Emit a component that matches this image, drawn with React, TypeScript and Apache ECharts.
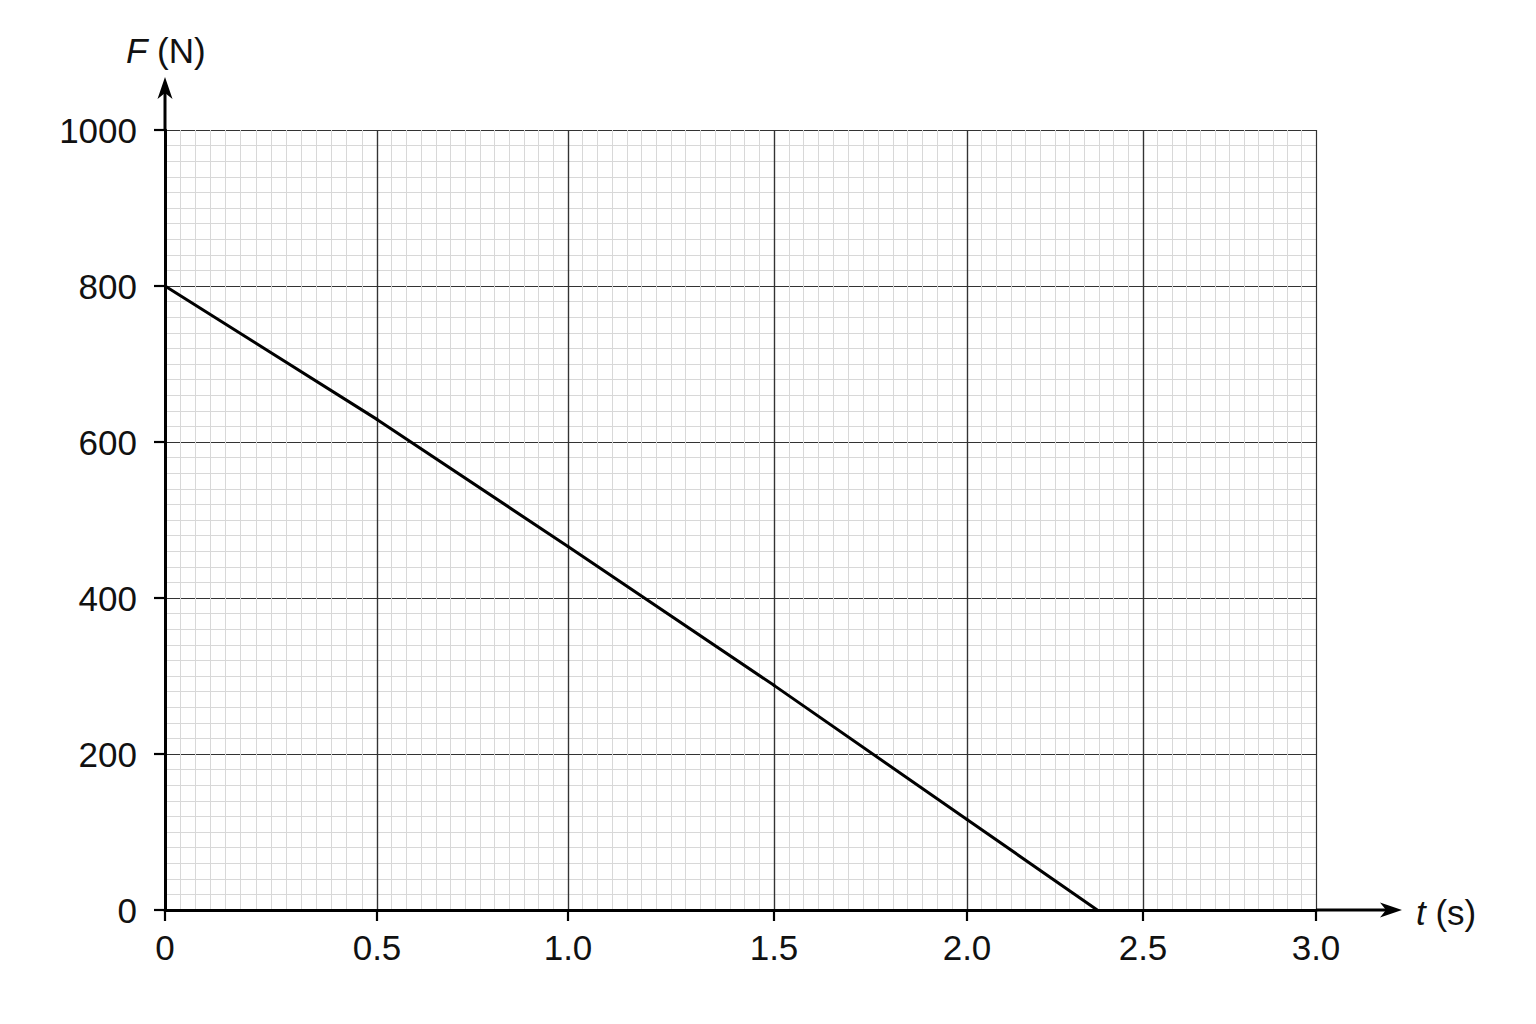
import React, { useEffect, useRef } from "react";
import * as echarts from "echarts";

// ---- data ----
const xTicks = [0, 0.5, 1.0, 1.5, 2.0, 2.5, 3.0];
const xTickLabels = ["0", "0.5", "1.0", "1.5", "2.0", "2.5", "3.0"];
const yTicks = [0, 200, 400, 600, 800, 1000];
const yTickLabels = ["0", "200", "400", "600", "800", "1000"];
const timeValues = [0, 0.5, 1.0, 1.5, 2.0, 2.37];
const forceValues = [800, 629, 466, 288, 116, 0];

// ---- layout (pixel edges of each 0.5 s band, as drawn in the reference) ----
const bandEdges = [165, 377, 568, 774, 967, 1143, 1316];
const minorCounts = [14, 13, 14, 13, 12, 12];
const PLOT_TOP = 130;
const PLOT_BOTTOM = 910;
const FONT = "'Liberation Sans', Arial, Helvetica, sans-serif";
const FS = 35;

function xLabelFor(v: number): string {
  const i = xTicks.findIndex((t) => Math.abs(t - v) < 1e-9);
  return i >= 0 ? xTickLabels[i] : String(v);
}
function yLabelFor(v: number): string {
  const i = yTicks.findIndex((t) => Math.abs(t - v) < 1e-9);
  return i >= 0 ? yTickLabels[i] : String(v);
}

export default function App() {
  const ref = useRef<HTMLDivElement>(null);

  useEffect(() => {
    if (!ref.current) return;
    const chart = echarts.init(ref.current, undefined, { renderer: "svg" });
    const nBands = xTicks.length - 1;
    const yMin = yTicks[0];
    const yMax = yTicks[yTicks.length - 1];
    const yInterval = yTicks[1] - yTicks[0];

    const grids: any[] = [];
    const xAxes: any[] = [];
    const yAxes: any[] = [];
    for (let k = 0; k < nBands; k++) {
      grids.push({
        left: bandEdges[k],
        top: PLOT_TOP,
        width: bandEdges[k + 1] - bandEdges[k],
        height: PLOT_BOTTOM - PLOT_TOP,
        containLabel: false,
      });
      xAxes.push({
        gridIndex: k,
        type: "value",
        min: xTicks[k],
        max: xTicks[k + 1],
        interval: xTicks[k + 1] - xTicks[k],
        axisLine: { show: true, onZero: false, lineStyle: { color: "#000", width: 3 } },
        axisTick: { show: true, length: 11, lineStyle: { color: "#000", width: 2.2 } },
        axisLabel: {
          show: true,
          showMinLabel: true,
          showMaxLabel: k === nBands - 1,
          margin: 20,
          color: "#111",
          fontSize: FS,
          fontFamily: FONT,
          formatter: (v: number) => xLabelFor(v),
        },
        splitLine: { show: true, lineStyle: { color: "#333333", width: 1.2 } },
        minorTick: { show: false, splitNumber: minorCounts[k] },
        minorSplitLine: { show: true, lineStyle: { color: "#d8d8d8", width: 1 } },
      });
      yAxes.push({
        gridIndex: k,
        type: "value",
        min: yMin,
        max: yMax,
        interval: yInterval,
        axisLine: { show: k === 0, onZero: false, lineStyle: { color: "#000", width: 3 } },
        axisTick: { show: k === 0, length: 11, lineStyle: { color: "#000", width: 2.2 } },
        axisLabel: {
          show: k === 0,
          margin: 28,
          color: "#111",
          fontSize: FS,
          fontFamily: FONT,
          formatter: (v: number) => yLabelFor(v),
        },
        splitLine: { show: true, lineStyle: { color: "#333333", width: 1.2 } },
        minorTick: { show: false, splitNumber: 10 },
        minorSplitLine: { show: true, lineStyle: { color: "#d8d8d8", width: 1 } },
      });
    }

    const series: any[] = [];
    for (let i = 0; i < timeValues.length - 1; i++) {
      const t0 = timeValues[i];
      const t1 = timeValues[i + 1];
      let band = 0;
      for (let k = 0; k < nBands; k++) {
        if (t0 >= xTicks[k] - 1e-9 && t1 <= xTicks[k + 1] + 1e-9) {
          band = k;
          break;
        }
      }
      series.push({
        type: "line",
        xAxisIndex: band,
        yAxisIndex: band,
        data: [
          [t0, forceValues[i]],
          [t1, forceValues[i + 1]],
        ],
        showSymbol: false,
        symbol: "none",
        clip: false,
        z: 10,
        lineStyle: { color: "#000", width: 3, cap: "round" },
      });
    }

    const x0 = bandEdges[0];
    const xEnd = bandEdges[bandEdges.length - 1];

    chart.setOption({
      animation: false,
      backgroundColor: "#ffffff",
      grid: grids,
      xAxis: xAxes,
      yAxis: yAxes,
      series,
      graphic: [
        {
          type: "line",
          shape: { x1: x0, y1: PLOT_TOP, x2: x0, y2: 92 },
          style: { stroke: "#000", lineWidth: 3 },
          z: 20,
        },
        {
          type: "polygon",
          shape: { points: [[x0, 77], [x0 - 7.5, 99], [x0, 93], [x0 + 7.5, 99]] },
          style: { fill: "#000" },
          z: 20,
        },
        {
          type: "line",
          shape: { x1: xEnd, y1: PLOT_BOTTOM, x2: 1388, y2: PLOT_BOTTOM },
          style: { stroke: "#000", lineWidth: 3 },
          z: 20,
        },
        {
          type: "polygon",
          shape: {
            points: [
              [1402, PLOT_BOTTOM],
              [1380, PLOT_BOTTOM - 7.5],
              [1386, PLOT_BOTTOM],
              [1380, PLOT_BOTTOM + 7.5],
            ],
          },
          style: { fill: "#000" },
          z: 20,
        },
        {
          type: "text",
          x: 126,
          y: 50,
          style: {
            text: "{i|F} (N)",
            rich: { i: { fontStyle: "italic", fontSize: FS, fontFamily: FONT, fill: "#111" } },
            fontSize: FS,
            fontFamily: FONT,
            fill: "#111",
            align: "left",
            verticalAlign: "middle",
          },
          z: 20,
        },
        {
          type: "text",
          x: 1416,
          y: 912,
          style: {
            text: "{i|t} (s)",
            rich: { i: { fontStyle: "italic", fontSize: FS, fontFamily: FONT, fill: "#111" } },
            fontSize: FS,
            fontFamily: FONT,
            fill: "#111",
            align: "left",
            verticalAlign: "middle",
          },
          z: 20,
        },
      ],
    });

    return () => {
      chart.dispose();
    };
  }, []);

  return (
    <div
      ref={ref}
      style={{ position: "absolute", left: 0, top: 0, width: 1536, height: 1024, background: "#fff" }}
    />
  );
}
